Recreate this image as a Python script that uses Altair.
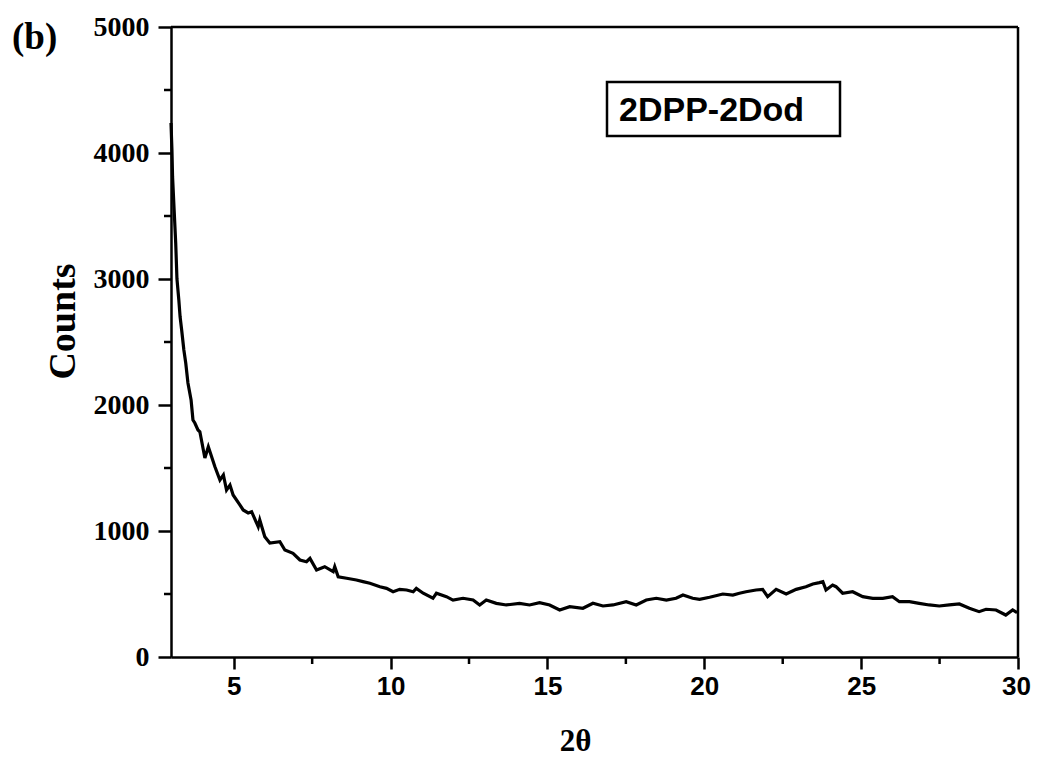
import altair as alt
import pandas as pd

# 2-theta (degrees) and counts
two_theta = [
    3.00, 3.03, 3.05, 3.10, 3.15, 3.19, 3.25, 3.29, 3.34, 3.41, 3.47, 3.54, 3.64, 3.70, 3.76, 3.86,
    3.92, 4.08, 4.19, 4.40, 4.56, 4.67, 4.77, 4.88, 4.98, 5.20, 5.30, 5.46, 5.57, 5.78, 5.83,
    5.99, 6.15, 6.47, 6.63, 6.89, 7.11, 7.32, 7.43, 7.64, 7.90, 8.17, 8.22, 8.33, 8.60, 8.91,
    9.12, 9.34, 9.66, 9.87, 10.08, 10.29, 10.51, 10.72, 10.82, 11.04, 11.35, 11.46, 11.78, 11.99,
    12.31, 12.63, 12.84, 13.05, 13.37, 13.69, 14.11, 14.43, 14.75, 15.07, 15.39, 15.71, 16.13,
    16.45, 16.77, 17.09, 17.51, 17.83, 18.15, 18.47, 18.79, 19.10, 19.32, 19.63, 19.85, 20.17,
    20.59, 20.91, 21.12, 21.33, 21.65, 21.86, 22.02, 22.29, 22.61, 22.93, 23.24, 23.46, 23.67,
    23.78, 23.88, 24.09, 24.20, 24.41, 24.73, 25.05, 25.37, 25.69, 26.00, 26.22, 26.54, 26.85,
    27.17, 27.49, 27.81, 28.13, 28.45, 28.76, 28.98, 29.30, 29.61, 29.83, 29.97,
]
counts = [
    4238, 4024, 3810, 3548, 3286, 3000, 2833, 2700, 2595, 2437, 2333, 2175, 2040, 1881, 1857, 1802,
    1788, 1579, 1669, 1510, 1405, 1445, 1325, 1365, 1286, 1206, 1167, 1143, 1153, 1034, 1087,
    955, 905, 915, 849, 823, 770, 756, 783, 691, 717, 677, 717, 637, 625, 611,
    598, 585, 558, 545, 518, 537, 532, 518, 545, 506, 466, 506, 479, 452,
    466, 452, 413, 452, 426, 413, 426, 413, 431, 413, 373, 399, 387,
    426, 405, 413, 439, 413, 452, 466, 452, 466, 492, 466, 458, 474,
    500, 492, 506, 518, 532, 537, 479, 537, 500, 537, 558, 579, 590,
    598, 532, 571, 558, 506, 518, 479, 466, 466, 479, 439, 439, 426,
    413, 405, 413, 421, 387, 360, 379, 373, 333, 373, 352,
]

x_major = [5, 10, 15, 20, 25, 30]
x_minor = [7.5, 12.5, 17.5, 22.5, 27.5]
y_major = [0, 1000, 2000, 3000, 4000, 5000]
y_minor = [500, 1500, 2500, 3500, 4500]

W, H = 847, 630

df = pd.DataFrame({"t": two_theta, "c": counts})
xs = alt.Scale(domain=[3, 30], nice=False, zero=False)
ys = alt.Scale(domain=[0, 5000], nice=False)

x_axis = alt.Axis(
    values=x_major, format="d", tickSize=12, tickWidth=2.5, tickColor="black",
    domainColor="black", domainWidth=2.5, grid=False, labelFlush=False,
    labelFont="Liberation Sans", labelFontWeight="bold", labelFontSize=26,
    labelColor="black", labelPadding=4,
    labelOffset={"condition": {"test": "datum.value == 30", "value": -2}, "value": 0},
    title="2θ", titleFont="Liberation Serif", titleFontWeight="bold", titleFontSize=31,
    titleColor="black", titleX=404, titleY=93, titleAlign="center", titleBaseline="alphabetic",
)
y_axis = alt.Axis(
    values=y_major, format="d", tickSize=13, tickWidth=2.5, tickColor="black",
    domainColor="black", domainWidth=2.5, grid=False, labelFlush=False,
    labelFont="Liberation Serif", labelFontWeight="bold", labelFontSize=28,
    labelColor="black", labelPadding=9,
    title="Counts", titleFont="Liberation Serif", titleFontWeight="bold", titleFontSize=38,
    titleColor="black", titleX=-97, titleY=294, titleAngle=-90, titleAlign="center",
    titleBaseline="alphabetic",
)

line = alt.Chart(df).mark_line(color="black", strokeWidth=3.2).encode(
    x=alt.X("t:Q", scale=xs, axis=x_axis),
    y=alt.Y("c:Q", scale=ys, axis=y_axis),
)

xminor = alt.Chart(pd.DataFrame({"m": x_minor})).mark_rule(color="black", strokeWidth=2.5).encode(
    x=alt.X("m:Q", scale=xs), y=alt.value(H), y2=alt.value(H + 7)
)
yminor = alt.Chart(pd.DataFrame({"m": y_minor})).mark_rule(color="black", strokeWidth=2.5).encode(
    y=alt.Y("m:Q", scale=ys), x=alt.value(-7), x2=alt.value(0)
)

frame_top = alt.Chart(pd.DataFrame({"a": [1]})).mark_rule(color="black", strokeWidth=2.5).encode(
    x=alt.value(0), x2=alt.value(W), y=alt.value(0)
)
frame_right = alt.Chart(pd.DataFrame({"a": [1]})).mark_rule(color="black", strokeWidth=2.5).encode(
    x=alt.value(W), y=alt.value(0), y2=alt.value(H)
)

box = alt.Chart(pd.DataFrame({"a": [1]})).mark_rect(
    fill="white", stroke="black", strokeWidth=2.5
).encode(x=alt.value(436), x2=alt.value(669), y=alt.value(55), y2=alt.value(109))

label = alt.Chart(pd.DataFrame({"s": ["2DPP-2Dod"]})).mark_text(
    font="Liberation Sans", fontWeight="bold", fontSize=34, align="left",
    baseline="alphabetic", color="black"
).encode(x=alt.value(448), y=alt.value(94), text="s:N")

panel = alt.Chart(pd.DataFrame({"s": ["(b)"]})).mark_text(
    font="Liberation Serif", fontWeight="bold", fontSize=37, align="left",
    baseline="alphabetic", color="black"
).encode(x=alt.value(-159), y=alt.value(22), text="s:N")

chart = alt.layer(line, xminor, yminor, frame_top, frame_right, box, label, panel).properties(
    width=W, height=H,
    autosize=alt.AutoSizeParams(type="none"),
    padding={"left": 163, "top": 19, "right": 13, "bottom": 100},
).configure_view(stroke=None).configure(background="white")

chart.save("out.html", embed_options={"renderer": "svg", "actions": False})
